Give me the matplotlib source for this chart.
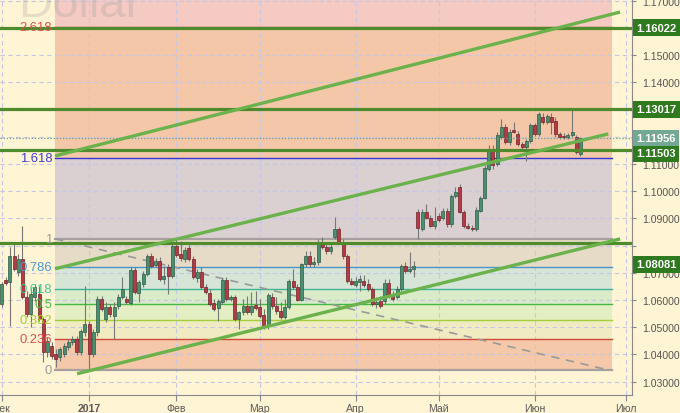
import numpy as np
import pandas as pd
import matplotlib
matplotlib.use("Agg")
import matplotlib.pyplot as plt

# EUR/USD daily candles, 1 Dec 2016 - 16 Jun 2017
opens = [
    1.0586, 1.0674, 1.0667, 1.0762, 1.0703, 1.0751, 1.0612, 1.0549, 1.0612, 1.0623,
    1.0531, 1.0409, 1.0432, 1.0402, 1.0391, 1.0402, 1.0428, 1.0446, 1.0457, 1.0409,
    1.0483, 1.0512, 1.0402, 1.0483, 1.0604, 1.0531, 1.0575, 1.0542, 1.0578, 1.0612,
    1.0604, 1.0590, 1.0711, 1.0626, 1.0659, 1.0696, 1.0762, 1.0729, 1.0744, 1.0678,
    1.0722, 1.0689, 1.0799, 1.0770, 1.0751, 1.0792, 1.0751, 1.0681, 1.0703, 1.0648,
    1.0626, 1.0590, 1.0571, 1.0593, 1.0674, 1.0604, 1.0612, 1.0531, 1.0556, 1.0578,
    1.0556, 1.0582, 1.0575, 1.0545, 1.0505, 1.0612, 1.0578, 1.0560, 1.0538, 1.0575,
    1.0670, 1.0648, 1.0601, 1.0733, 1.0762, 1.0733, 1.0740, 1.0814, 1.0795, 1.0781,
    1.0832, 1.0862, 1.0814, 1.0762, 1.0670, 1.0656, 1.0667, 1.0670, 1.0659, 1.0641,
    1.0586, 1.0597, 1.0597, 1.0663, 1.0623, 1.0612, 1.0641, 1.0726, 1.0707, 1.0715,
    1.0924, 1.0862, 1.0924, 1.0902, 1.0873, 1.0909, 1.0902, 1.0928, 1.0880, 1.0983,
    1.1016, 1.0924, 1.0873, 1.0865, 1.0862, 1.0928, 1.0976, 1.1082, 1.1156, 1.1100,
    1.1200, 1.1236, 1.1181, 1.1225, 1.1211, 1.1174, 1.1163, 1.1185, 1.1244, 1.1211,
    1.1273, 1.1255, 1.1273, 1.1258, 1.1211, 1.1203, 1.1200, 1.1207, 1.1200, 1.1137,
]
highs = [
    1.0667, 1.0685, 1.0795, 1.0806, 1.0770, 1.0873, 1.0634, 1.0641, 1.0659, 1.0652,
    1.0538, 1.0465, 1.0446, 1.0420, 1.0428, 1.0443, 1.0457, 1.0468, 1.0468, 1.0494,
    1.0652, 1.0523, 1.0494, 1.0615, 1.0615, 1.0593, 1.0586, 1.0593, 1.0623, 1.0685,
    1.0615, 1.0722, 1.0722, 1.0674, 1.0707, 1.0770, 1.0773, 1.0755, 1.0759, 1.0726,
    1.0733, 1.0817, 1.0825, 1.0817, 1.0795, 1.0803, 1.0762, 1.0715, 1.0722, 1.0659,
    1.0641, 1.0604, 1.0604, 1.0681, 1.0685, 1.0619, 1.0619, 1.0560, 1.0604, 1.0615,
    1.0630, 1.0634, 1.0604, 1.0567, 1.0626, 1.0626, 1.0612, 1.0593, 1.0604, 1.0678,
    1.0715, 1.0659, 1.0737, 1.0781, 1.0781, 1.0759, 1.0825, 1.0832, 1.0814, 1.0814,
    1.0906, 1.0869, 1.0825, 1.0770, 1.0681, 1.0685, 1.0692, 1.0692, 1.0678, 1.0648,
    1.0612, 1.0615, 1.0678, 1.0678, 1.0634, 1.0652, 1.0733, 1.0740, 1.0777, 1.0744,
    1.0935, 1.0935, 1.0953, 1.0913, 1.0942, 1.0920, 1.0939, 1.0939, 1.0990, 1.1016,
    1.1027, 1.0931, 1.0884, 1.0876, 1.0942, 1.0983, 1.1097, 1.1170, 1.1170, 1.1218,
    1.1266, 1.1247, 1.1229, 1.1255, 1.1222, 1.1181, 1.1192, 1.1251, 1.1251, 1.1292,
    1.1288, 1.1284, 1.1288, 1.1273, 1.1218, 1.1214, 1.1214, 1.1303, 1.1207, 1.1200,
]
lows = [
    1.0575, 1.0656, 1.0505, 1.0707, 1.0689, 1.0604, 1.0538, 1.0501, 1.0597, 1.0523,
    1.0373, 1.0391, 1.0384, 1.0354, 1.0376, 1.0391, 1.0417, 1.0435, 1.0398, 1.0398,
    1.0468, 1.0347, 1.0391, 1.0468, 1.0560, 1.0520, 1.0538, 1.0457, 1.0567, 1.0604,
    1.0586, 1.0582, 1.0623, 1.0593, 1.0648, 1.0689, 1.0718, 1.0722, 1.0670, 1.0659,
    1.0623, 1.0681, 1.0759, 1.0744, 1.0740, 1.0744, 1.0678, 1.0667, 1.0641, 1.0623,
    1.0578, 1.0560, 1.0523, 1.0586, 1.0597, 1.0597, 1.0523, 1.0494, 1.0545, 1.0549,
    1.0545, 1.0564, 1.0534, 1.0494, 1.0494, 1.0567, 1.0549, 1.0531, 1.0531, 1.0567,
    1.0641, 1.0597, 1.0597, 1.0722, 1.0722, 1.0722, 1.0729, 1.0788, 1.0770, 1.0770,
    1.0825, 1.0806, 1.0751, 1.0663, 1.0656, 1.0648, 1.0634, 1.0648, 1.0634, 1.0578,
    1.0571, 1.0571, 1.0586, 1.0608, 1.0597, 1.0604, 1.0634, 1.0700, 1.0700, 1.0685,
    1.0825, 1.0854, 1.0898, 1.0869, 1.0862, 1.0887, 1.0895, 1.0869, 1.0869, 1.0976,
    1.0920, 1.0865, 1.0862, 1.0854, 1.0854, 1.0924, 1.0972, 1.1075, 1.1082, 1.1093,
    1.1192, 1.1174, 1.1170, 1.1214, 1.1167, 1.1156, 1.1111, 1.1178, 1.1203, 1.1203,
    1.1247, 1.1247, 1.1211, 1.1200, 1.1192, 1.1192, 1.1192, 1.1200, 1.1137, 1.1130,
]
closes = [
    1.0659, 1.0663, 1.0762, 1.0714, 1.0751, 1.0612, 1.0549, 1.0623, 1.0648, 1.0531,
    1.0409, 1.0450, 1.0395, 1.0384, 1.0420, 1.0432, 1.0446, 1.0457, 1.0409, 1.0487,
    1.0512, 1.0402, 1.0483, 1.0604, 1.0567, 1.0575, 1.0549, 1.0575, 1.0612, 1.0641,
    1.0593, 1.0711, 1.0630, 1.0667, 1.0696, 1.0762, 1.0726, 1.0744, 1.0678, 1.0689,
    1.0689, 1.0799, 1.0766, 1.0755, 1.0784, 1.0751, 1.0685, 1.0703, 1.0648, 1.0630,
    1.0586, 1.0567, 1.0597, 1.0674, 1.0604, 1.0612, 1.0531, 1.0556, 1.0578, 1.0556,
    1.0578, 1.0571, 1.0542, 1.0505, 1.0619, 1.0578, 1.0560, 1.0538, 1.0575, 1.0670,
    1.0648, 1.0601, 1.0733, 1.0762, 1.0733, 1.0740, 1.0814, 1.0795, 1.0781, 1.0795,
    1.0862, 1.0814, 1.0762, 1.0670, 1.0659, 1.0670, 1.0678, 1.0656, 1.0641, 1.0586,
    1.0593, 1.0578, 1.0663, 1.0615, 1.0604, 1.0641, 1.0726, 1.0707, 1.0715, 1.0726,
    1.0865, 1.0924, 1.0902, 1.0873, 1.0891, 1.0895, 1.0928, 1.0880, 1.0983, 1.0998,
    1.0924, 1.0873, 1.0865, 1.0862, 1.0931, 1.0976, 1.1086, 1.1156, 1.1097, 1.1207,
    1.1236, 1.1181, 1.1218, 1.1218, 1.1174, 1.1163, 1.1185, 1.1244, 1.1211, 1.1284,
    1.1255, 1.1277, 1.1255, 1.1211, 1.1200, 1.1200, 1.1207, 1.1218, 1.1145, 1.1196,
]

# fibonacci tool: anchors (bar index) and the 0 / 1 prices
fib_start, fib_end = 12.83, 146.6
fib_0, fib_1 = 1.0343, 1.0825
fib_ratios = [0, 0.236, 0.382, 0.5, 0.618, 0.786, 1, 1.618, 2.618]
fib_names = ["0", "0.236", "0.382", "0.5", "0.618", "0.786", "1", "1.618", "2.618"]

# horizontal levels with price tags on the right
levels = [1.16022, 1.13017, 1.11503, 1.08081]
last_price = 1.11956

# trend channel, (bar index, price) end points
channel_x = [[12.83, 148.55], [12.83, 145.7], [18.12, 148.55]]
channel_y = [[1.1130, 1.1659], [1.0715, 1.1211], [1.0329, 1.0825]]

month_names = ["Дек", "2017", "Фев", "Мар", "Апр", "Май", "Июн", "Июл"]

# trading days (no bars on 26 Dec and 2 Jan), first bar of each month
days = pd.bdate_range("2016-12-01", "2017-07-07")
days = days[~days.isin(pd.to_datetime(["2016-12-26", "2017-01-02"]))]
tick_pos = np.flatnonzero(~days.to_period("M").duplicated())

bg = "#fff4d4"
plt.rcParams["font.family"] = ["Liberation Sans", "DejaVu Sans"]

fig = plt.figure(figsize=(6.8, 4.14), dpi=100)
fig.patch.set_facecolor(bg)
ax = fig.add_axes([0, 18 / 414, 632 / 680, 396 / 414])
ax.set_facecolor(bg)
ax.set_xlim(-0.38, 151.4)
ax.set_ylim(1.0251, 1.1707)

# fib zones
fib_prices = [fib_0 + r * (fib_1 - fib_0) for r in fib_ratios]
zone_cols = ["#f4c8a8", "#f1ebc2", "#e3eec2", "#d9ebc8", "#d6e5d6",
             "#e6dbc6", "#dacfd1", "#f4c7a9", "#f4cac2"]
edges = fib_prices + [1.1707]
for lo, hi, c in zip(edges[:-1], edges[1:], zone_cols):
    ax.fill_between([fib_start, fib_end], lo, hi, color=c, lw=0, zorder=0.3)

line_cols = ["#a8a0a0", "#d04a3a", "#a4cf38", "#44b844", "#3fb39a",
             "#4a94c8", "#a8a0a0", "#3434d0", "#d04a3a"]
text_cols = ["#9a9a9a", "#e05050", "#a4cf38", "#44c044", "#44c49a",
             "#4a9ad4", "#9a9a9a", "#4040d0", "#e05050"]
for p, lc, tc, name in zip(fib_prices, line_cols, text_cols, fib_names):
    lw = 1.6 if name in ("0", "1") else 1.0
    ax.plot([fib_start, fib_end], [p, p], color=lc, lw=lw, zorder=2)
    ax.annotate(name, xy=(fib_start, p), xytext=(-2, 0), textcoords="offset points",
                ha="right", va="center", fontsize=9.4, color=tc, zorder=8)

# fib diagonal
ax.plot([fib_start, 145.7], [fib_1, fib_0], color="#9a9a9a", lw=1.2,
        ls=(0, (5, 4)), zorder=2)

# candles
x = np.arange(len(opens))
o = np.array(opens)
c = np.array(closes)
up = c >= o
body_col = np.where(up, "#4a9070", "#b53a44")
edge_col = np.where(up, "#2d5a44", "#6e2228")
ax.vlines(x, lows, highs, color="#777777", lw=0.8, zorder=3)
ax.bar(x, np.maximum(np.abs(c - o), 0.00012), bottom=np.minimum(o, c), width=0.72,
       color=body_col, edgecolor=edge_col, lw=0.5, zorder=3.5)

# levels
ax.axhline(last_price, color="#6aa08a", lw=0.9, ls=(0, (1, 1.5)), zorder=4)
for lv in levels:
    ax.axhline(lv, color="#4f8a2c", lw=2.3, zorder=6)

# channel
for cx, cy in zip(channel_x, channel_y):
    ax.plot(cx, cy, color="#6cb24c", lw=2.4, solid_capstyle="butt", zorder=7)

# price tags
tags = levels + [last_price]
tag_shift = [0, 0, -3, -21, 0]
tag_col = ["#2f7a1e"] * 4 + ["#72a894"]
for v, sh, col in zip(tags, tag_shift, tag_col):
    ax.annotate(f"{v:.5f}", xy=(1, v), xycoords=ax.get_yaxis_transform(),
                xytext=(3.3, sh * 0.72), textcoords="offset points",
                ha="left", va="center", fontsize=8, fontweight="bold", color="white",
                bbox=dict(boxstyle="square,pad=0.3", fc=col, ec="none"),
                annotation_clip=False, zorder=10)


# tick labels that sit fully under a price tag are not shown
def price_fmt(v, pos):
    if any(abs(v - t) < 0.0012 for t in tags):
        return ""
    return f"{v:.5f}"


ax.set_yticks(np.arange(1.03, 1.1701, 0.01))
ax.yaxis.set_major_formatter(plt.FuncFormatter(price_fmt))
ax.yaxis.tick_right()
ax.set_xticks(tick_pos)
ax.set_xticklabels(month_names)
ax.get_xticklabels()[1].set_fontweight("bold")
ax.get_xticklabels()[1].set_color("#3a3a3a")
ax.tick_params(axis="y", length=3, color="#888888", labelsize=7.6,
               labelcolor="#555555", pad=4)
ax.tick_params(axis="x", length=4, color="#888888", labelsize=7.6,
               labelcolor="#5a5a5a", pad=1.5)
ax.set_axisbelow(True)
ax.grid(True, color="#c6c6e6", lw=0.8, ls=(0, (4, 3)))
for side in ("top", "left"):
    ax.spines[side].set_visible(False)
for side in ("right", "bottom"):
    ax.spines[side].set_color("#8a8a8a")

fig.text(18 / 680, 1 - 17 / 414, "Dollar", fontsize=34, color="#9a9a9a",
         alpha=0.25, va="baseline", ha="left")

fig.savefig("out.png", dpi=100, facecolor=bg)
